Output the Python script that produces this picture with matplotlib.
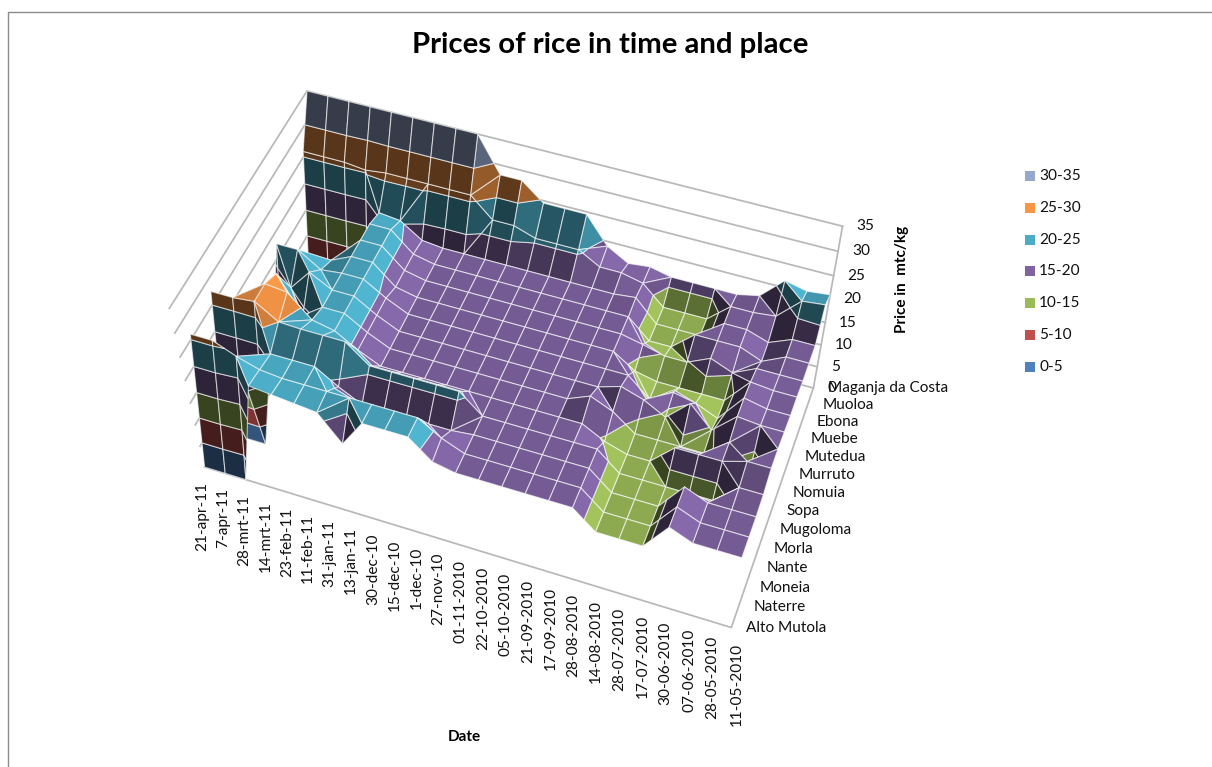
import numpy as np
import matplotlib
matplotlib.use('Agg')
import matplotlib.pyplot as plt
from matplotlib.lines import Line2D
from matplotlib.patches import Rectangle
from mpl_toolkits.mplot3d import proj3d
from mpl_toolkits.mplot3d.art3d import Poly3DCollection

plt.rcParams['font.family'] = ['Lato', 'DejaVu Sans']

dates = ['21-apr-11', '7-apr-11', '28-mrt-11', '14-mrt-11', '23-feb-11', '11-feb-11', '31-jan-11',
         '13-jan-11', '30-dec-10', '15-dec-10', '1-dec-10', '27-nov-10', '01-11-2010', '22-10-2010',
         '05-10-2010', '21-09-2010', '17-09-2010', '28-08-2010', '14-08-2010', '28-07-2010',
         '17-07-2010', '30-06-2010', '07-06-2010', '28-05-2010', '11-05-2010']
places = ['Alto Mutola', 'Naterre', 'Moneia', 'Nante', 'Morla', 'Mugoloma', 'Sopa', 'Nomuia',
          'Murruto', 'Mutedua', 'Muebe', 'Ebona', 'Muoloa', 'Maganja da Costa']

# price per market, one value per date; 0 = no price recorded
alto_mutola = [0, 0, 0, 23, 22.5, 22, 21.5, 16, 22, 22, 22, 18, 17, 17, 17, 17, 17, 17, 13, 13, 13, 19, 17, 17, 17]
naterre = [26, 26, 24, 22.5, 22, 22, 22, 22, 22, 22, 22, 19, 17, 17, 17, 17, 17, 17, 13, 13, 13, 19, 17, 17, 17]
moneia = [0, 0, 0, 22, 22, 22, 19, 16.5, 16.5, 16.5, 16.5, 16.5, 17, 17, 17, 17, 17, 17, 13, 13, 13, 19, 17, 17, 17]
nante = [27.5, 27.5, 28, 25, 24.8, 24.8, 24.8, 21, 21, 21, 21, 21, 17, 17, 17, 17, 17, 17, 13, 13, 13, 13, 13, 17.5, 17.5]
morla = [0, 0, 28, 27.5, 23, 22, 19.2, 17, 17, 17, 17, 17, 17, 17, 17, 17, 17, 14.5, 13, 13, 17.5, 17.5, 17.5, 19, 19]
mugoloma = [0, 0, 26.5, 19, 22, 22, 19.2, 17, 17, 17, 17, 17, 17, 17, 17, 17, 19, 17, 13.5, 13.5, 13.5, 13.5, 17.5, 12, 19]
sopa = [0, 0, 20, 24.5, 22, 22, 19.2, 17, 17, 17, 17, 17, 17, 17, 17, 17, 17, 18.5, 17, 14.5, 19, 14.5, 19, 18.5, 18.5]
nomuia = [0, 24.5, 24.5, 21.5, 22, 22, 19.2, 17, 17, 17, 17, 17, 17, 17, 17, 17, 17, 17, 13, 16, 15, 13, 19, 18, 18]
murruto = [0, 0, 0, 20, 22, 22, 18, 17, 17, 17, 17, 17, 17, 17, 17, 17, 17, 14, 13, 13, 13, 13, 18.5, 18, 18]
mutedua = [0, 0, 0, 0, 22, 22, 18, 17, 17, 17, 17, 17, 17, 17, 17, 17, 17, 16, 14.8, 14.8, 17, 15.2, 17.5, 17.5, 17.5]
muebe = [0, 0, 0, 0, 22, 22, 18, 17, 17, 17, 17, 17, 17, 17, 17, 17, 17, 13, 13, 17, 17, 17, 15.2, 17.5, 17.5]
ebona = [0, 0, 0, 0, 21, 20.5, 17.5, 17, 17, 17, 17, 17, 17, 17, 17, 17, 17.5, 13, 13, 13, 17, 17, 15.5, 17.5, 17.5]
muoloa = [26, 26, 26, 25.5, 26, 26, 26, 26, 26, 22, 22, 20.5, 20.5, 20.5, 18, 18, 17, 13, 13, 13, 17, 17, 17.5, 22, 22.5]
maganja = [35, 35, 35, 35, 35, 35, 35, 35, 35, 28, 28, 24.5, 24.5, 24.5, 19, 16.5, 17, 16, 16, 16, 16, 17, 21.5, 20.5, 21]

prices = np.array([alto_mutola, naterre, moneia, nante, morla, mugoloma, sopa, nomuia,
                   murruto, mutedua, muebe, ebona, muoloa, maganja], float)

bands = [(0, 5), (5, 10), (10, 15), (15, 20), (20, 25), (25, 30), (30, 35)]
band_names = ['0-5', '5-10', '10-15', '15-20', '20-25', '25-30', '30-35']
band_colors = ['#4F81BD', '#C0504D', '#9BBB59', '#8064A2', '#4BACC6', '#F79646', '#95A8CC']

W, H = 1212, 767
box = np.array([2.2505, 1.2532, 1.0])
scale = box / np.array([24.0, 13.0, 35.0])
light = np.array([0.53, 0.25, 0.61])


def clip_band(poly, lo, hi):
    # Sutherland-Hodgman against the two price levels of a band
    for level, keep_above in ((lo, True), (hi, False)):
        out = []
        for i in range(len(poly)):
            p, q = poly[i], poly[(i + 1) % len(poly)]
            pin = p[2] >= level if keep_above else p[2] <= level
            qin = q[2] >= level if keep_above else q[2] <= level
            if pin:
                out.append(p)
            if pin != qin:
                t = (level - p[2]) / (q[2] - p[2])
                out.append(p + t * (q - p))
        poly = out
        if len(poly) < 3:
            return []
    return poly


def shade(poly):
    pts = np.array(poly) * scale
    n = np.zeros(3)
    for i in range(len(pts)):
        n += np.cross(pts[i], pts[(i + 1) % len(pts)])
    n /= np.linalg.norm(n)
    if n[2] < 0:
        n = -n
    return float(np.clip(0.30 + n @ light, 0.36, 1.05))


def surface_faces():
    faces = []
    for r in range(len(places) - 1):
        for d in range(len(dates) - 1):
            c = [np.array([d + i, r + j, prices[r + j, d + i]], float)
                 for i, j in ((0, 0), (1, 0), (1, 1), (0, 1))]
            z = [p[2] for p in c]
            if max(z) == 0:
                continue
            # strongly bent cells are drawn as two triangles, folded along the flatter diagonal
            bend = abs(z[0] + z[2] - z[1] - z[3])
            if bend < 3.0:
                faces.append(c)
            elif abs(z[0] - z[2]) <= abs(z[1] - z[3]):
                faces += [[c[0], c[1], c[2]], [c[0], c[2], c[3]]]
            else:
                faces += [[c[0], c[1], c[3]], [c[1], c[2], c[3]]]
    return faces


fig = plt.figure(figsize=(W / 100, H / 100), dpi=100)
ax = fig.add_axes([0.13737, 0.0915, 0.55595, 0.87851], projection='3d')
ax.computed_zorder = False
ax.set_xlim(0, 24)
ax.set_ylim(0, 13)
ax.set_zlim(0, 35)
ax.view_init(elev=50.4492, azim=-69.232, roll=0.737)
ax.set_proj_type('persp', focal_length=0.5297)
ax.set_box_aspect(tuple(box))
ax.set_axis_off()

wall = dict(color='#b8b8b8', lw=1.25, clip_on=False, zorder=1)
for z in range(0, 40, 5):
    ax.plot([0, 24], [13, 13], [z, z], **wall)
    ax.plot([0, 0], [0, 13], [z, z], **wall)
ax.plot([0, 24, 24, 24], [0, 0, 13, 13], [0, 0, 0, 35], **wall)

polys, colors = [], []
for face in surface_faces():
    f = shade(face)
    for (lo, hi), col in zip(bands, band_colors):
        part = clip_band(face, lo, hi)
        if len(part) < 3 or max(p[2] for p in part) == min(p[2] for p in part) == 0:
            continue
        polys.append(np.array(part))
        colors.append(np.clip(np.array(matplotlib.colors.to_rgb(col)) * f, 0, 1))

surface = Poly3DCollection(polys, facecolors=colors, edgecolors=(1, 1, 1, 0.62), linewidths=0.8,
                           zsort='average', zorder=3, clip_on=False)
ax.add_collection3d(surface)
ax.set_xlim(0, 24)
ax.set_ylim(0, 13)
ax.set_zlim(0, 35)
ax.apply_aspect()


def to_px(x, y, z):
    xp, yp, _ = proj3d.proj_transform(x, y, z, ax.get_proj())
    return ax.transData.transform((xp, yp))


def label(px, py, s, **kw):
    fig.text(px / W, py / H, s, **kw)


tick_size = 11.1
for d, name in enumerate(dates):
    px, py = to_px(d, 0, 0)
    label(px - 2 + 7 * d / 24, py - 15, name, rotation=90, ha='center', va='top', fontsize=tick_size, color='#111111')
for r, name in enumerate(places):
    px, py = to_px(24, r, 0)
    label(px + 15, py, name, ha='left', va='center', fontsize=tick_size, color='#111111')
for z in range(0, 40, 5):
    px, py = to_px(24, 13, z)
    label(px + 14, py, str(z), ha='left', va='center', fontsize=tick_size, color='#111111')

label(610, H - 45, 'Prices of rice in time and place', ha='center', va='center', fontsize=21.2, fontweight='bold', color='black')
label(464, H - 737, 'Date', ha='center', va='center', fontsize=11, fontweight='bold', color='black')
label(902, H - 279, 'Price in  mtc/kg', ha='center', va='center', rotation=90, fontsize=11, fontweight='bold', color='black')

# legend, highest band first
for i, (name, col) in enumerate(zip(band_names[::-1], band_colors[::-1])):
    y = 176 + i * 31.8
    fig.add_artist(Rectangle((1025 / W, (H - y - 5) / H), 10 / W, 10 / H, transform=fig.transFigure,
                             facecolor=col, edgecolor='none'))
    label(1039, H - y, name, ha='left', va='center', fontsize=tick_size, color='#111111')

# chart frame
fig.add_artist(Line2D([8 / W, 8 / W, 1], [0, (H - 12) / H, (H - 12) / H], transform=fig.transFigure,
                      color='#8c8c8c', lw=1))

fig.savefig('out.png', dpi=100)
